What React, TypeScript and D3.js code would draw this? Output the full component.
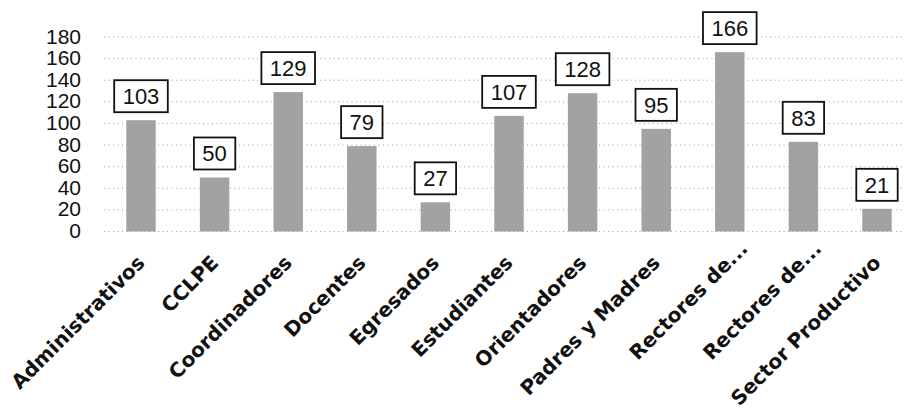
import React, { useEffect, useRef } from "react";
import * as d3 from "d3";

const categories = [
  "Administrativos",
  "CCLPE",
  "Coordinadores",
  "Docentes",
  "Egresados",
  "Estudiantes",
  "Orientadores",
  "Padres y Madres",
  "Rectores de...",
  "Rectores de...",
  "Sector Productivo",
];
const values = [103, 50, 129, 79, 27, 107, 128, 95, 166, 83, 21];
const yTicks = [0, 20, 40, 60, 80, 100, 120, 140, 160, 180];

const W = 904;
const H = 413;

export default function App() {
  const ref = useRef<SVGSVGElement>(null);

  useEffect(() => {
    const svg = d3.select(ref.current);
    svg.selectAll("*").remove();

    const x = d3
      .scaleBand<number>()
      .domain(d3.range(categories.length))
      .range([104.2, 913.8])
      .paddingInner(0.6)
      .paddingOuter(0.3);
    const y = d3.scaleLinear().domain([0, 180]).range([231.5, 37]);

    // gridlines
    svg
      .append("g")
      .selectAll("line")
      .data(yTicks)
      .join("line")
      .attr("x1", 104)
      .attr("x2", W)
      .attr("y1", (d) => y(d))
      .attr("y2", (d) => y(d))
      .attr("stroke", "#9a9a9a")
      .attr("stroke-width", 1)
      .attr("stroke-dasharray", "1 3.5");

    // y tick labels
    svg
      .append("g")
      .selectAll("text")
      .data(yTicks)
      .join("text")
      .attr("x", 81)
      .attr("y", (d) => y(d) - 1)
      .attr("dy", "0.36em")
      .attr("text-anchor", "end")
      .attr("font-family", "'Liberation Sans', Arial, sans-serif")
      .attr("font-size", 21)
      .attr("fill", "#111")
      .text((d) => String(d));

    const idx = d3.range(categories.length);

    // bars
    svg
      .append("g")
      .selectAll("rect")
      .data(idx)
      .join("rect")
      .attr("x", (i) => x(i)!)
      .attr("width", x.bandwidth())
      .attr("y", (i) => y(values[i]))
      .attr("height", (i) => y(0) - y(values[i]))
      .attr("fill", "#a2a2a2");

    // value label boxes
    const lg = svg
      .append("g")
      .selectAll("g")
      .data(idx)
      .join("g");
    lg.each(function (i) {
      const g = d3.select(this);
      const cx = x(i)! + x.bandwidth() / 2;
      const bottom = y(values[i]) - 8;
      const txt = String(values[i]);
      const w = txt.length * 12.2 + 17;
      g.append("rect")
        .attr("x", cx - w / 2)
        .attr("y", bottom - 32)
        .attr("width", w)
        .attr("height", 32)
        .attr("fill", "#fff")
        .attr("stroke", "#111")
        .attr("stroke-width", 1.8);
      g.append("text")
        .attr("x", cx)
        .attr("y", bottom - 16)
        .attr("dy", "0.36em")
        .attr("text-anchor", "middle")
        .attr("font-family", "'Liberation Sans', Arial, sans-serif")
        .attr("font-size", 22)
        .attr("fill", "#111")
        .text(txt);
    });

    // category labels
    svg
      .append("g")
      .selectAll("text")
      .data(idx)
      .join("text")
      .attr("transform", (i) => {
        const cx = x(i)! + x.bandwidth() / 2 + 5;
        return `translate(${cx},264) rotate(-45)`;
      })
      .attr("dx", (i) => (categories[i].endsWith("...") ? "1em" : "0"))
      .attr("text-anchor", "end")
      .attr("font-family", "'DejaVu Sans', Verdana, sans-serif")
      .attr("font-weight", "bold")
      .attr("font-size", 20)
      .attr("fill", "#111")
      .text((i) => categories[i]);
  }, []);

  return (
    <svg
      ref={ref}
      width={W}
      height={H}
      style={{ position: "absolute", left: 0, top: 0, background: "#fff" }}
    />
  );
}
